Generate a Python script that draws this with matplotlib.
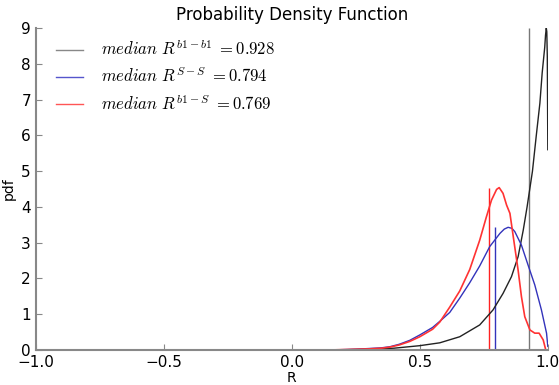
import numpy as np
import matplotlib.pyplot as plt

plt.rcParams['mathtext.fontset'] = 'cm'

# pdf curves
r_bb = [-1.0, 0.0, 0.2, 0.3, 0.4, 0.5, 0.578, 0.656, 0.734, 0.786, 0.825, 0.858, 0.884,
        0.904, 0.919, 0.94, 0.955, 0.969, 0.978, 0.988, 0.991, 0.994, 0.996, 0.998, 1.0]
pdf_bb = [0.0, 0.0, 0.005, 0.02, 0.05, 0.12, 0.2, 0.37, 0.7, 1.12, 1.58, 2.05, 2.61,
          3.35, 4.0, 5.0, 6.0, 6.9, 7.75, 8.47, 8.8, 9.0, 8.9, 8.2, 5.6]

r_ss = [-1.0, 0.0, 0.15, 0.25, 0.3, 0.35, 0.383, 0.42, 0.461, 0.5, 0.55, 0.578, 0.617,
        0.656, 0.695, 0.734, 0.773, 0.813, 0.83, 0.845, 0.86, 0.871, 0.897, 0.923,
        0.949, 0.975, 0.995, 1.0]
pdf_ss = [0.0, 0.0, 0.0, 0.02, 0.04, 0.06, 0.09, 0.16, 0.27, 0.42, 0.63, 0.8, 1.05,
          1.45, 1.88, 2.35, 2.89, 3.26, 3.38, 3.43, 3.4, 3.31, 2.93, 2.37,
          1.82, 1.12, 0.47, 0.1]

r_bs = [-1.0, 0.0, 0.15, 0.25, 0.3, 0.35, 0.383, 0.42, 0.461, 0.5, 0.55, 0.578, 0.617,
        0.656, 0.695, 0.734, 0.76, 0.78, 0.8, 0.81, 0.825, 0.839, 0.852, 0.865, 0.884,
        0.897, 0.91, 0.93, 0.949, 0.966, 0.982, 0.992]
pdf_bs = [0.0, 0.0, 0.0, 0.02, 0.03, 0.05, 0.08, 0.14, 0.24, 0.37, 0.58, 0.78, 1.2,
          1.65, 2.25, 3.07, 3.72, 4.19, 4.49, 4.54, 4.38, 4.05, 3.82, 3.17, 2.23,
          1.49, 0.93, 0.56, 0.47, 0.47, 0.28, 0.0]

medians = [0.928, 0.794, 0.769]
labels = [r'$median\ R^{b1-b1}\ =0.928$',
          r'$median\ R^{S-S}\ =0.794$',
          r'$median\ R^{b1-S}\ =0.769$']

fig = plt.figure(figsize=(5.59, 3.85), dpi=100)
ax = fig.add_axes([0.064, 0.091, 0.916, 0.836])

# vertical median lines (height = peak of each pdf)
ax.vlines(medians[0], 0, max(pdf_bb), color='#777777', lw=1)
ax.vlines(medians[1], 0, max(pdf_ss), color='#3333bb', lw=1)
ax.vlines(medians[2], 0, max(pdf_bs), color='#ff2222', lw=1)

ax.plot(r_bb, pdf_bb, color='#222222', lw=1)
ax.plot(r_ss, pdf_ss, color='#3333bb', lw=1)
ax.plot(r_bs, pdf_bs, color='#ff3333', lw=1.2)

# legend entries
h1, = ax.plot([], [], color='#888888', lw=1)
h2, = ax.plot([], [], color='#5555cc', lw=1)
h3, = ax.plot([], [], color='#ff5555', lw=1)
ax.legend([h1, h2, h3], labels, loc='upper left', frameon=False, fontsize=12,
          handlelength=1.6, handletextpad=1.1, labelspacing=0.5,
          bbox_to_anchor=(0.01, 1.01))

ax.set_xlim(-1, 1)
ax.set_ylim(0, 9)
ax.set_xticks([-1.0, -0.5, 0.0, 0.5, 1.0])
ax.set_yticks(range(10))
ax.set_title('Probability Density Function', fontsize=12)
ax.set_xlabel('R', fontsize=10, labelpad=1)
ax.set_ylabel('pdf', fontsize=10)

for s in ['top', 'right']:
    ax.spines[s].set_visible(False)
for s in ['left', 'bottom']:
    ax.spines[s].set_color('#888888')
    ax.spines[s].set_linewidth(1.5)
ax.tick_params(direction='in', colors='black', labelsize=11, length=4, color='#888888')

plt.savefig('out.png', dpi=100)
